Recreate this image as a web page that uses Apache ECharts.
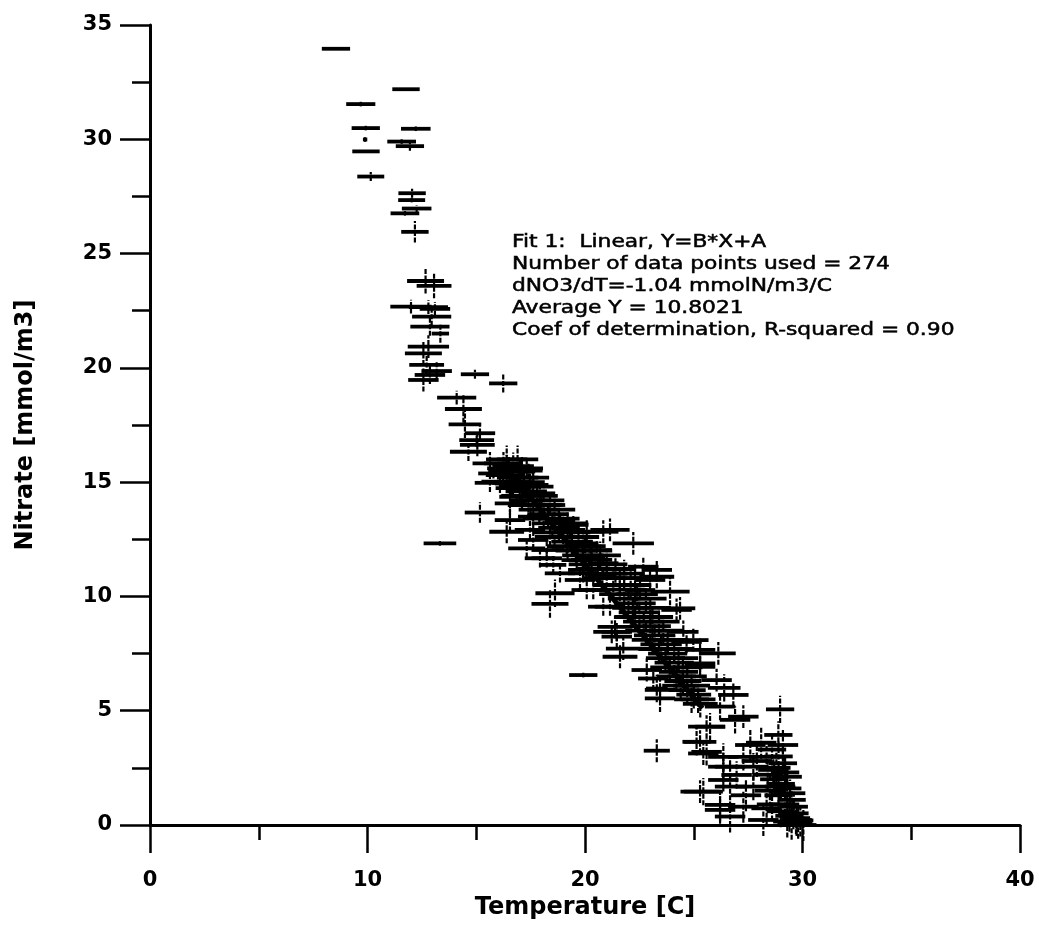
<!DOCTYPE html>
<html>
<head>
<meta charset="utf-8">
<script src="https://cdn.jsdelivr.net/npm/echarts@6/dist/echarts.min.js"></script>
<style>
  html, body { margin: 0; padding: 0; background: #fff; }
  #chart { width: 1039px; height: 931px; }
</style>
</head>
<body>
<div id="chart"></div>
<script>
// ---------------- DATA ----------------
// Temperature [C] of each sample
const temperature = [
  // upper, cold samples
  8.55, 11.77, 9.69, 9.92, 12.22, 9.89, 11.57, 11.95, 9.93, 10.15, 12.05, 12.03, 12.26, 11.72, 12.18,
  12.67, 13.06, 12.0, 12.80, 13.10, 12.95, 12.87, 13.35, 12.80, 12.57, 12.72, 13.18, 12.87, 14.94, 12.57, 16.24,
  14.10, 14.41, 14.48, 15.17, 15.02, 15.05, 14.64, 15.63, 16.40, 16.24, 16.09, 17.01, 17.47, 16.69,
  // mid range
  16.25, 15.79, 17.32, 15.63, 16.55, 17.62, 17.93, 16.86, 16.55, 18.39, 15.17, 16.55, 17.62, 18.85, 16.40, 19.46, 17.47,
  20.08, 20.84, 17.62, 18.39, 17.32, 18.24, 19.16, 19.92, 20.54, 18.24, 18.54, 19.62, 20.23, 20.84, 18.85, 19.92, 20.69,
  13.33, 17.93, 18.62, 18.39, 21.15, 22.22, 23.91, 23.30, 20.08, 20.84, 21.46, 19.92, 19.31,
  19.92, 23.30, 28.97, 28.89, 26.13, 26.82, 27.28, 26.05, 23.45, 23.30, 21.61, 21.23, 24.37, 24.52, 24.67, 25.29, 25.59,
  25.29, 25.44, 25.29, 26.36, 26.21, 26.67, 24.21, 24.98, 25.29, 25.29, 21.38, 21.46, 21.76, 22.84, 23.14, 23.45, 19.77,
  20.38, 21.15, 22.53, 22.99, 23.30, 22.68,
  // warm, nitrate-depleted samples
  26.90, 25.75, 26.21, 25.13, 25.59, 26.36, 27.28, 28.35, 26.36, 27.74, 28.66, 26.97, 29.27, 25.44, 26.67, 27.74, 28.97,
  29.43, 26.21, 27.28, 28.35, 29.58, 29.73, 26.67, 28.20, 30.04, 28.6, 28.9, 29.1, 28.8, 29.2, 28.7, 29.0, 29.3, 28.9,
  29.5, 29.2, 29.6, 29.0, 29.4, 29.7, 29.3, 29.8, 29.5, 29.9, 28.5, 28.4, 27.9, 27.6, 28.1, 27.4, 28.6, 29.1,
  // dense band along the fit
  16.4, 16.9, 16.7, 16.5, 17.1, 16.9, 17.4, 16.6, 17.2, 17.0, 17.6, 17.3, 17.1, 17.8, 17.5, 18.1, 17.4, 18.0, 17.9, 18.6,
  18.3, 18.1, 18.8, 18.5, 19.2, 18.8, 18.6, 19.3, 19.0, 19.7, 19.4, 19.2, 20.0, 19.6, 20.3, 19.9, 20.7, 20.3, 20.2, 21.0,
  20.6, 21.4, 21.0, 21.8, 20.8, 21.6, 22.3, 21.3, 22.1, 21.8, 21.6, 22.4, 22.0, 22.8, 22.3, 22.2, 23.0, 22.5, 22.3, 23.1,
  22.7, 23.4, 23.0, 22.8, 23.6, 23.2, 23.1, 23.8, 23.5, 23.4, 24.1, 23.8, 23.7, 24.3, 24.1, 23.9, 24.5, 24.3, 24.2, 24.7,
  24.5, 24.4, 24.9, 24.7, 25.0, 24.9, 25.2, 25.3, 26.4
];
// Nitrate [mmol/m3] of each sample
const nitrate = [
  33.96, 32.19, 31.54, 30.49, 30.46, 29.99, 29.90, 29.70, 29.47, 28.37, 27.64, 27.34, 26.97, 26.76, 25.95,
  23.80, 23.59, 22.68, 22.66, 22.58, 22.24, 21.80, 21.50, 20.93, 20.63, 20.13, 19.86, 19.69, 19.72, 19.47, 19.32,
  18.70, 18.20, 17.53, 17.14, 16.84, 16.63, 16.33, 15.82, 15.60, 15.31, 15.02, 15.46, 14.88, 14.74,
  15.82, 15.38, 15.60, 14.97, 14.94, 14.88, 14.51, 14.36, 14.07, 14.00, 13.67, 13.34, 13.49, 13.27, 12.83, 13.13, 12.91,
  12.83, 12.83, 12.47, 12.61, 12.10, 12.03, 12.17, 12.32, 12.03, 11.67, 11.38, 11.59, 11.74, 11.45, 11.01, 11.01, 10.94,
  12.32, 11.67, 10.14, 9.67, 12.91, 12.32, 10.21, 10.86, 10.28, 9.55, 8.45, 11.16, 12.91,
  6.56, 3.25, 5.06, 3.94, 7.51, 5.69, 4.74, 6.34, 5.54, 5.97, 7.36, 8.45, 9.48, 8.45, 8.01, 6.92, 4.30,
  3.64, 3.13, 1.46, 1.97, 0.66, 2.55, 9.41, 8.09, 7.66, 7.07, 8.67, 8.24, 7.72, 6.78, 6.41, 5.91, 10.72,
  10.28, 9.55, 10.28, 10.72, 11.16, 11.30,
  4.60, 4.30, 5.18, 3.64, 3.20, 2.98, 2.98, 2.98, 2.55, 2.55, 2.41, 2.19, 2.11, 1.46, 1.68, 1.68, 1.68,
  1.39, 0.88, 0.80, 0.73, 0.51, 0.22, 0.37, 0.22, 0.00, 3.3, 3.0, 2.7, 2.5, 2.3, 2.0, 1.8, 1.6, 1.3,
  1.1, 0.9, 0.8, 0.6, 0.4, 0.3, 0.15, 0.1, 0.05, 0.2, 1.5, 2.2, 2.8, 3.5, 3.6, 1.3, 0.9, 3.5,
  16.0, 16.0, 15.7, 15.5, 15.5, 15.2, 15.2, 15.0, 15.0, 14.8, 14.8, 14.6, 14.4, 14.4, 14.2, 14.2, 14.0, 14.0, 13.8, 13.8,
  13.6, 13.4, 13.4, 13.2, 13.2, 13.0, 12.8, 12.8, 12.6, 12.6, 12.4, 12.2, 12.2, 12.0, 12.0, 11.8, 11.8, 11.6, 11.4, 11.4,
  11.2, 11.2, 11.0, 11.0, 10.8, 10.8, 10.8, 10.5, 10.5, 10.3, 10.1, 10.1, 9.9, 9.9, 9.7, 9.5, 9.5, 9.3, 9.1, 9.1,
  8.9, 8.9, 8.7, 8.5, 8.5, 8.3, 8.1, 8.1, 7.9, 7.7, 7.7, 7.5, 7.3, 7.3, 7.1, 6.9, 6.9, 6.7, 6.5, 6.5,
  6.3, 6.1, 6.1, 5.9, 5.7, 5.5, 5.5, 5.3, 6.0
];
// half-width of the temperature error bar [C]
const tempErr = [
  0.65, 0.63, 0.67, 0.65, 0.68, 0.1, 0.66, 0.65, 0.63, 0.62, 0.63, 0.62, 0.68, 0.66, 0.63,
  0.85, 0.8, 0.95, 0.9, 0.7, 0.9, 0.9, 0.4, 0.95, 0.85, 0.8, 0.7, 0.7, 0.65, 0.7, 0.65,
  0.9, 0.85, 0.75, 0.7, 0.8, 0.8, 0.85, 0.8, 0.9, 0.8, 0.85, 0.7, 0.7, 0.8,
  0.9, 0.7, 0.75, 0.7, 0.7, 0.7, 0.7, 0.8, 0.7, 0.7, 0.7, 0.7, 0.7, 0.7, 0.8, 0.7, 0.7,
  0.7, 0.7, 0.7, 0.7, 0.85, 0.7, 0.7, 0.7, 0.7, 0.7, 0.6, 0.7, 0.7, 0.7, 0.7, 0.7, 0.7,
  0.75, 0.7, 0.9, 0.85, 0.9, 0.95, 0.9, 0.8, 0.7, 0.7, 0.7, 0.7, 0.7,
  0.65, 0.6, 0.65, 0.65, 0.8, 0.7, 0.7, 0.7, 0.7, 0.5, 0.8, 0.85, 0.7, 0.7, 0.7, 0.7, 0.85,
  0.75, 0.7, 0.9, 0.7, 0.7, 0.7, 0.7, 0.7, 0.7, 0.7, 0.8, 0.7, 0.8, 0.7, 0.7, 0.7, 0.7,
  0.7, 0.7, 0.7, 0.7, 0.7, 0.7,
  0.7, 0.7, 0.7, 0.65, 0.7, 0.7, 0.7, 0.7, 0.7, 0.7, 0.7, 0.7, 0.7, 0.9, 0.7, 0.7, 0.7,
  0.7, 0.7, 0.7, 0.7, 0.7, 0.7, 0.7, 0.7, 0.6, 0.65, 0.65, 0.65, 0.65, 0.65, 0.65, 0.65, 0.65, 0.65,
  0.65, 0.65, 0.65, 0.65, 0.65, 0.65, 0.65, 0.65, 0.65, 0.6, 0.7, 0.7, 0.7, 0.7, 0.7, 0.7, 0.7, 0.7,
  0.95, 0.95, 0.95, 0.95, 0.95, 0.95, 0.95, 0.95, 0.95, 0.95, 0.95, 0.95, 0.95, 0.95, 0.95, 0.95, 0.95, 0.95, 0.95, 0.95,
  0.95, 0.95, 0.95, 0.95, 0.95, 0.95, 0.95, 0.95, 0.95, 0.95, 0.95, 0.95, 0.95, 0.95, 0.95, 0.95, 0.95, 0.95, 0.95, 0.95,
  0.95, 0.95, 0.95, 0.95, 0.95, 0.95, 0.95, 0.95, 0.95, 0.95, 0.95, 0.95, 0.95, 0.95, 0.95, 0.95, 0.95, 0.95, 0.95, 0.95,
  0.95, 0.95, 0.95, 0.95, 0.95, 0.95, 0.95, 0.95, 0.95, 0.95, 0.9, 0.9, 0.9, 0.9, 0.9, 0.9, 0.9, 0.9, 0.9, 0.9,
  0.85, 0.85, 0.85, 0.85, 0.8, 0.8, 0.8, 0.8, 0.75
];
// half-height of the nitrate error bar [mmol/m3]
const nitrateErr = [
  0.05, 0.05, 0.1, 0.1, 0.1, 0.1, 0.1, 0.2, 0.05, 0.2, 0.2, 0.1, 0.15, 0.1, 0.47,
  0.55, 0.55, 0.3, 0.3, 0.3, 0.4, 0.4, 0.4, 0.5, 0.5, 0.4, 0.4, 0.4, 0.2, 0.5, 0.4,
  0.3, 0.6, 0.6, 0.3, 0.3, 0.5, 0.4, 0.5, 0.6, 0.5, 0.5, 0.5, 0.5, 0.4,
  0.5, 0.5, 0.4, 0.4, 0.5, 0.5, 0.4, 0.4, 0.5, 0.4, 0.45, 0.5, 0.5, 0.4, 0.5, 0.4, 0.4,
  0.5, 0.5, 0.4, 0.4, 0.4, 0.4, 0.4, 0.4, 0.4, 0.4, 0.4, 0.4, 0.4, 0.4, 0.4, 0.4, 0.4,
  0.1, 0.4, 0.6, 0.6, 0.5, 0.5, 0.6, 0.5, 0.4, 0.4, 0.4, 0.4, 0.4,
  0.1, 0.5, 0.6, 0.6, 0.5, 0.5, 0.5, 0.5, 0.6, 0.6, 0.5, 0.5, 0.5, 0.5, 0.5, 0.5, 0.5,
  0.5, 0.5, 0.5, 0.5, 0.6, 0.5, 0.5, 0.5, 0.5, 0.5, 0.5, 0.5, 0.5, 0.5, 0.5, 0.5, 0.4,
  0.4, 0.4, 0.4, 0.4, 0.4, 0.4,
  0.6, 0.6, 0.6, 0.6, 0.6, 0.6, 0.6, 0.6, 0.6, 0.6, 0.6, 0.6, 0.6, 0.6, 0.6, 0.6, 0.6,
  0.6, 0.7, 0.7, 0.7, 0.7, 0.7, 0.7, 0.7, 0.7, 0.7, 0.7, 0.7, 0.7, 0.7, 0.7, 0.7, 0.7, 0.7,
  0.7, 0.7, 0.7, 0.7, 0.7, 0.7, 0.7, 0.7, 0.7, 0.7, 0.7, 0.7, 0.7, 0.7, 0.7, 0.7, 0.7, 0.7,
  0.6, 0.6, 0.6, 0.6, 0.6, 0.6, 0.6, 0.6, 0.6, 0.6, 0.6, 0.6, 0.6, 0.6, 0.6, 0.6, 0.6, 0.6, 0.6, 0.6,
  0.6, 0.6, 0.6, 0.6, 0.6, 0.6, 0.6, 0.6, 0.6, 0.6, 0.6, 0.6, 0.6, 0.6, 0.6, 0.6, 0.6, 0.6, 0.6, 0.6,
  0.6, 0.6, 0.6, 0.6, 0.6, 0.6, 0.6, 0.6, 0.6, 0.6, 0.6, 0.6, 0.6, 0.6, 0.6, 0.6, 0.6, 0.6, 0.6, 0.6,
  0.6, 0.6, 0.6, 0.6, 0.6, 0.6, 0.6, 0.6, 0.6, 0.6, 0.6, 0.6, 0.6, 0.6, 0.6, 0.6, 0.6, 0.6, 0.6, 0.6,
  0.6, 0.6, 0.6, 0.6, 0.6, 0.6, 0.6, 0.6, 0.6
];
// ends of the drawn linear fit (Temperature, Nitrate)
const fitLine = [[16.4, 15.6], [25.4, 5.1]];
// axis ranges / ticks
const xRange = [0, 40], xStep = 10;
const yRange = [0, 35], yStep = 5;
// fit summary text
const fitText = [
  'Fit 1:  Linear, Y=B*X+A',
  'Number of data points used = 274',
  'dNO3/dT=-1.04 mmolN/m3/C',
  'Average Y = 10.8021',
  'Coef of determination, R-squared = 0.90'
];

// ---------------- CHART ----------------
const points = temperature.map((t, i) => [t, nitrate[i], tempErr[i], nitrateErr[i]]);

const chart = echarts.init(document.getElementById('chart'), null, { renderer: 'canvas' });

const axisFont = { fontFamily: 'DejaVu Sans', fontWeight: 'bold', color: '#000' };

const option = {
  backgroundColor: '#fff',
  animation: false,
  grid: { left: 150, right: 19, top: 25, bottom: 106, containLabel: false },
  xAxis: {
    type: 'value', min: xRange[0], max: xRange[1], interval: xStep,
    name: 'Temperature [C]', nameLocation: 'middle', nameGap: 66,
    nameTextStyle: Object.assign({ fontSize: 24 }, axisFont),
    axisLine: { show: true, onZero: false, lineStyle: { color: '#000', width: 3 } },
    axisTick: { show: true, inside: false, length: 28, lineStyle: { color: '#000', width: 2.5 } },
    minorTick: { show: true, splitNumber: 2, length: 15, lineStyle: { color: '#000', width: 2.5 } },
    axisLabel: Object.assign({ fontSize: 21, margin: 45 }, axisFont),
    splitLine: { show: false }
  },
  yAxis: {
    type: 'value', min: yRange[0], max: yRange[1], interval: yStep,
    name: 'Nitrate [mmol/m3]', nameLocation: 'middle', nameGap: 112, nameRotate: 90,
    nameTextStyle: Object.assign({ fontSize: 24 }, axisFont),
    axisLine: { show: true, onZero: false, lineStyle: { color: '#000', width: 3 } },
    axisTick: { show: true, inside: false, length: 30, lineStyle: { color: '#000', width: 2.5 } },
    minorTick: { show: true, splitNumber: 2, length: 18, lineStyle: { color: '#000', width: 2.5 } },
    axisLabel: Object.assign({ fontSize: 21, margin: 38 }, axisFont),
    splitLine: { show: false }
  },
  series: [
    {
      type: 'custom',
      clip: false,
      data: points,
      renderItem: function (params, api) {
        const t = api.value(0), n = api.value(1), et = api.value(2), en = api.value(3);
        const l = api.coord([t - et, n]), r = api.coord([t + et, n]);
        const b = api.coord([t, n - en]), u = api.coord([t, n + en]);
        return {
          type: 'group',
          children: [
            { type: 'line', shape: { x1: l[0], y1: l[1], x2: r[0], y2: r[1] },
              style: { stroke: '#000', lineWidth: 3.8 } },
            { type: 'line', shape: { x1: b[0], y1: b[1], x2: u[0], y2: u[1] },
              style: { stroke: '#000', lineWidth: 2.2, lineDash: [5, 1.5] } }
          ]
        };
      }
    },
    {
      type: 'line',
      data: fitLine,
      symbol: 'none',
      lineStyle: { color: '#000', width: 5 },
      z: 3
    }
  ],
  graphic: fitText.map((s, i) => ({
    type: 'text',
    x: 512, y: 243 + i * 22,
    scaleX: 1.28,
    style: {
      text: s, x: 0, y: 0,
      fontFamily: 'DejaVu Sans', fontSize: 17,
      fill: '#000', stroke: '#000', lineWidth: 0.5,
      verticalAlign: 'middle', align: 'left'
    }
  }))
};

chart.setOption(option);
</script>
</body>
</html>
